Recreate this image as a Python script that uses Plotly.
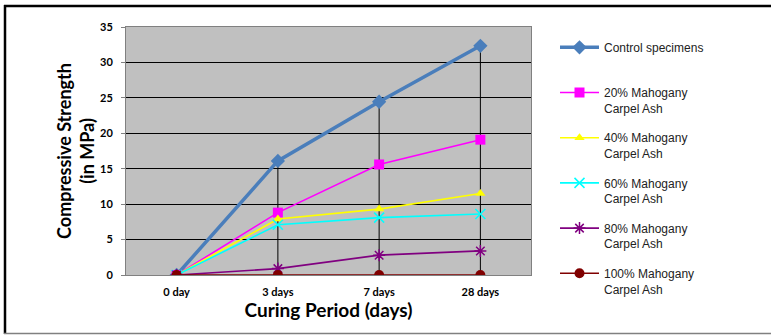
import plotly.graph_objects as go

categories = ["0 day", "3 days", "7 days", "28 days"]
series_names = [
    "Control specimens",
    "20% Mahogany<br>Carpel Ash",
    "40% Mahogany<br>Carpel Ash",
    "60% Mahogany<br>Carpel Ash",
    "80% Mahogany<br>Carpel Ash",
    "100% Mahogany<br>Carpel Ash",
]
control = [0, 16.1, 24.45, 32.35]
ash20 = [0, 8.8, 15.6, 19.1]
ash40 = [0, 7.9, 9.3, 11.5]
ash60 = [0, 7.1, 8.1, 8.6]
ash80 = [0, 0.9, 2.8, 3.4]
ash100 = [0, 0, 0, 0]
y_ticks = [0, 5, 10, 15, 20, 25, 30, 35]

values = [control, ash20, ash40, ash60, ash80, ash100]
colors = ["#4A7EBB", "#FF00FF", "#FFFF00", "#00FFFF", "#800080", "#800000"]
symbols = ["diamond", "square", "triangle-up", "x-thin-open", "asterisk-open", "circle"]
msizes = [11, 10, 9, 10, 10, 10]
lwidths = [3.5, 1.6, 1.6, 1.6, 1.6, 1.6]

fig = go.Figure()

# drop lines from control series down to zero
dx, dy = [], []
for c, v in zip(categories[1:], control[1:]):
    dx += [c, c, None]
    dy += [v, 0, None]
fig.add_trace(go.Scatter(x=dx, y=dy, mode="lines", line=dict(color="black", width=1),
                         showlegend=False, hoverinfo="skip"))

for i, (name, vals) in enumerate(zip(series_names, values)):
    label = name if "<br>" in name else name + "<br> "
    mk = dict(symbol=symbols[i], size=msizes[i], color=colors[i])
    if symbols[i].endswith("-open"):
        mk["line"] = dict(color=colors[i], width=1.5)
    fig.add_trace(go.Scatter(
        x=categories, y=vals, name=label, mode="lines+markers",
        line=dict(color=colors[i], width=lwidths[i]), marker=mk,
        legendgroup=str(i),
    ))

W, H = 771, 335
L, R, T, B = 126, 240, 27, 60
pw, ph = W - L - R, H - T - B
def px_x(x):
    return (x - L) / pw
def px_y(y):
    return (H - B - y) / ph

fig.update_layout(
    width=W, height=H,
    margin=dict(l=L, r=R, t=T, b=B, autoexpand=False),
    paper_bgcolor="white",
    plot_bgcolor="#C0C0C0",
    font=dict(family="Lato", color="black"),
    xaxis=dict(
        type="category", categoryorder="array", categoryarray=categories,
        range=[-0.5, 3.5], showgrid=False,
        showline=True, linecolor="#808080", linewidth=1, mirror=True,
        ticks="", ticklabelstandoff=7,
        tickfont=dict(family="Lato", size=11, color="black", weight="bold"),
        title=dict(text="<b>Curing Period (days)</b>", font=dict(family="Lato", size=19), standoff=1),
        fixedrange=True,
    ),
    yaxis=dict(
        range=[0, 35], tickvals=y_ticks, showgrid=True, gridcolor="black", gridwidth=1,
        showline=True, linecolor="#808080", linewidth=1, mirror=True,
        ticks="outside", ticklen=4, tickcolor="#808080", ticklabelstandoff=6,
        tickfont=dict(family="Lato", size=11, color="black", weight="bold"),
        title=dict(text="<b>Compressive Strength<br>(in MPa)</b>", font=dict(family="Lato", size=18), standoff=0),
        zeroline=False, fixedrange=True,
    ),
    legend=dict(
        x=px_x(555), xanchor="left", y=px_y(33), yanchor="top",
        font=dict(family="Liberation Sans", size=12, color="#222"),
        valign="top", tracegroupgap=11, itemwidth=39, maxheight=320,
        bgcolor="rgba(0,0,0,0)", traceorder="grouped",
    ),
    shapes=[
        dict(type="line", xref="paper", yref="paper", x0=px_x(4), x1=px_x(W), y0=px_y(6), y1=px_y(6),
             line=dict(color="black", width=2.5)),
        dict(type="line", xref="paper", yref="paper", x0=px_x(5), x1=px_x(5), y0=px_y(5), y1=px_y(334),
             line=dict(color="black", width=2.5)),
        dict(type="line", xref="paper", yref="paper", x0=px_x(4), x1=px_x(W), y0=px_y(333.5), y1=px_y(333.5),
             line=dict(color="#808080", width=1.5)),
    ],
    showlegend=True,
)

fig.write_html("out.html", config={"displayModeBar": False},
               post_script="document.body.style.margin='0';document.body.style.overflow='hidden';")
